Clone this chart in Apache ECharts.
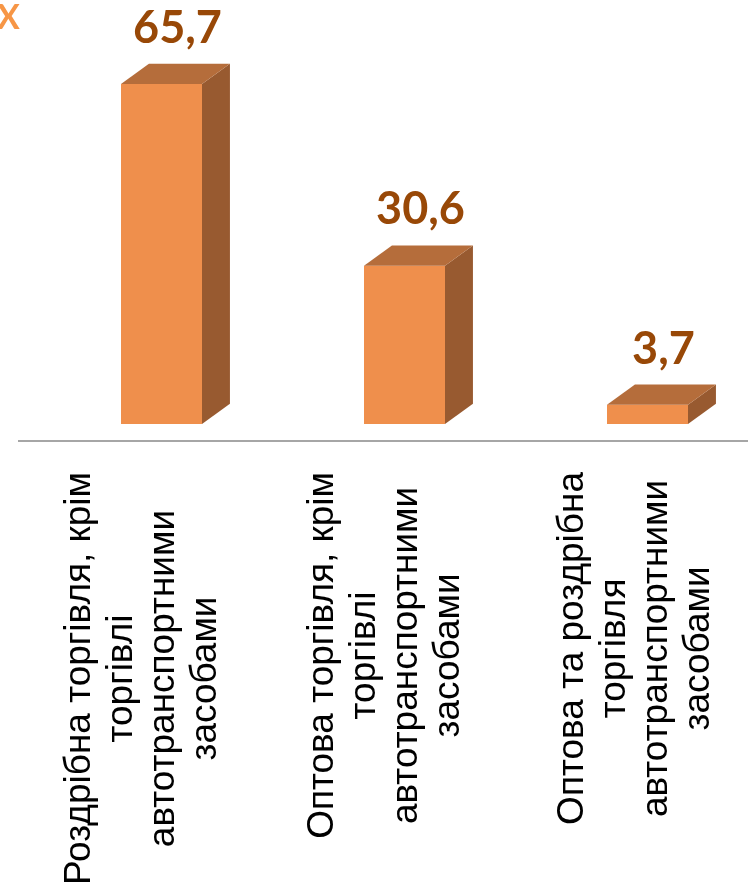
<!DOCTYPE html>
<html>
<head>
<meta charset="utf-8">
<script src="https://cdn.jsdelivr.net/npm/echarts@6/dist/echarts.min.js"></script>
<style>
html, body { margin: 0; padding: 0; background: #ffffff; }
#chart { width: 750px; height: 890px; }
</style>
</head>
<body>
<div id="chart"></div>
<script>
// ---- data ----
const categories = [
  'Роздрібна торгівля, крім\nторгівлі\nавтотранспортними\nзасобами',
  'Оптова торгівля, крім\nторгівлі\nавтотранспортними\nзасобами',
  'Оптова та роздрібна\nторгівля\nавтотранспортними\nзасобами'
];
const values = [65.7, 30.6, 3.7];
const valueLabels = ['65,7', '30,6', '3,7'];
const titleText = 'X';

// ---- styles ----
const FRONT = '#EF8F4C';
const TOP = '#B56D3B';
const SIDE = '#985A30';
const LABEL_COLOR = '#984807';

const seriesData = values.map((v, i) => [i, v]);

const chart = echarts.init(document.getElementById('chart'), null, { renderer: 'canvas' });

chart.setOption({
  animation: false,
  backgroundColor: '#ffffff',
  title: {
    text: titleText,
    left: -3,
    top: 1,
    padding: 0,
    textStyle: { color: '#F79646', fontSize: 34, fontWeight: 'bold', fontFamily: 'Lato' }
  },
  grid: {
    left: 40,
    width: 729,
    top: 10,
    height: 414,
    containLabel: false,
    outerBoundsMode: 'none'
  },
  xAxis: {
    type: 'category',
    data: categories,
    boundaryGap: true,
    axisLine: { show: false },
    axisTick: { show: false },
    splitLine: { show: false },
    axisLabel: {
      interval: 0,
      rotate: 90,
      margin: 48,
      padding: [0, 0, 37, 0],
      hideOverlap: false,
      formatter: function (value, index) {
        const lines = value.split('\n').map(l => '{c|' + l + '}');
        if (index === 2) lines.unshift('{s| }');
        return lines.join('\n');
      },
      rich: {
        c: { fontSize: 37, lineHeight: 42, align: 'center', fontFamily: 'Liberation Sans', color: '#000000' },
        s: { fontSize: 4, lineHeight: 14 }
      }
    }
  },
  yAxis: {
    type: 'value',
    min: 0,
    max: 80,
    show: false,
    splitLine: { show: false }
  },
  graphic: [
    {
      type: 'line',
      shape: { x1: 18, y1: 441, x2: 748, y2: 441 },
      style: { stroke: '#A6A6A6', lineWidth: 2 },
      z: 1
    }
  ],
  series: [
    {
      type: 'custom',
      data: seriesData,
      encode: { x: 0, y: 1 },
      z: 5,
      renderItem: function (params, api) {
        const i = api.value(0);
        const v = api.value(1);
        const top = api.coord([i, v]);
        const base = api.coord([i, 0]);
        const band = api.size([1, 0])[0];
        const w = band / 3;
        const dx = w * 0.345;
        const dy = w * 0.25;
        const x0 = top[0] - w / 2;
        const x1 = top[0] + w / 2;
        const yt = top[1];
        const yb = base[1];
        return {
          type: 'group',
          children: [
            {
              type: 'polygon',
              shape: { points: [[x1, yt], [x1 + dx, yt - dy], [x1 + dx, yb - dy], [x1, yb]] },
              style: { fill: SIDE }
            },
            {
              type: 'rect',
              shape: { x: x0, y: yt, width: w, height: yb - yt },
              style: { fill: FRONT }
            },
            {
              type: 'polygon',
              shape: { points: [[x0, yt], [x0 + dx, yt - dy], [x1 + dx, yt - dy], [x1, yt]] },
              style: { fill: TOP }
            },
            {
              type: 'text',
              style: {
                text: valueLabels[i],
                x: (x0 + x1 + dx) / 2 + 2,
                y: yt - dy - 13,
                align: 'center',
                verticalAlign: 'bottom',
                fontSize: 45,
                fontWeight: 'bold',
                fontFamily: 'Lato',
                fill: LABEL_COLOR
              }
            }
          ]
        };
      }
    }
  ]
});
</script>
</body>
</html>
